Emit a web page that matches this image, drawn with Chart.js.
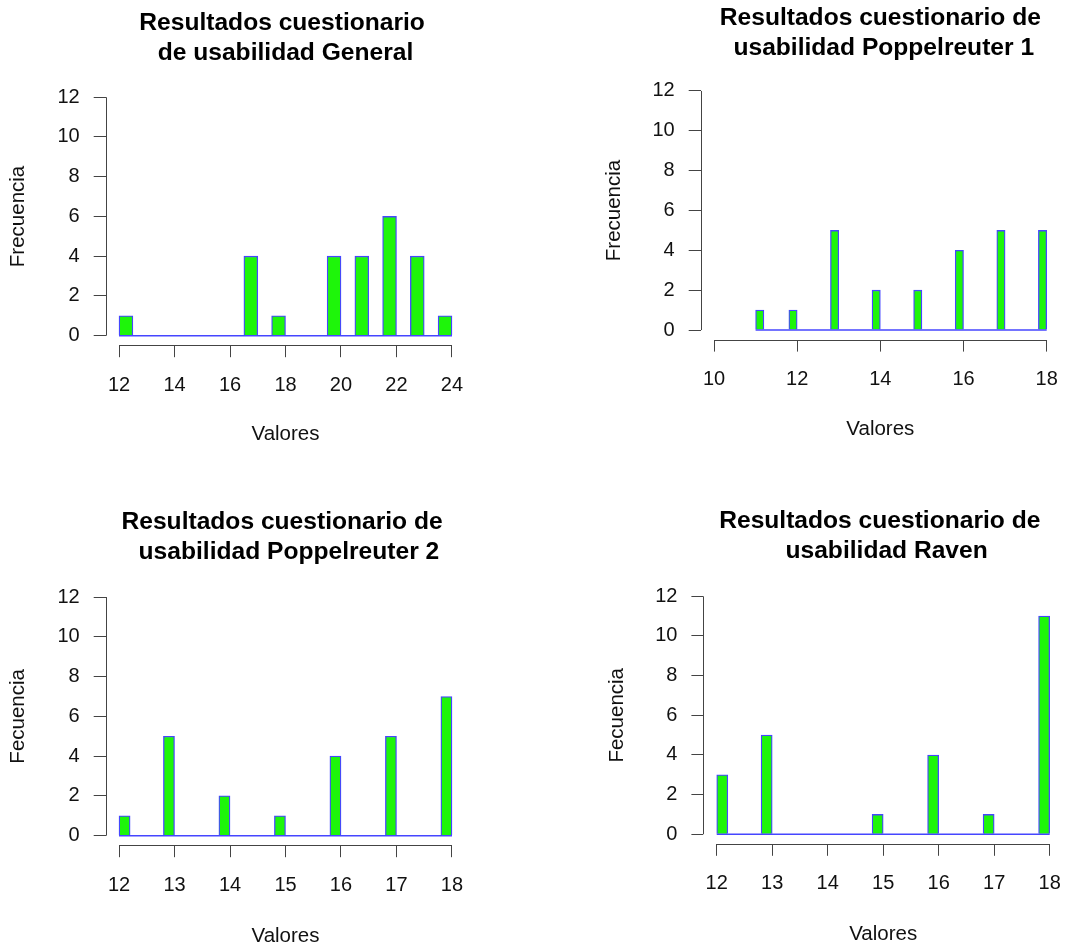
<!DOCTYPE html>
<html>
<head>
<meta charset="utf-8">
<script src="https://cdn.jsdelivr.net/npm/chart.js@4.4.1/dist/chart.umd.min.js"></script>
<style>
  html, body { margin: 0; padding: 0; background: #fff; }
  #wrap { position: relative; width: 1084px; height: 949px; }
  #wrap canvas { position: absolute; }
</style>
</head>
<body>
<div id="wrap">
  <canvas id="c1" width="542" height="470" style="left:0;top:0"></canvas>
  <canvas id="c2" width="542" height="470" style="left:542px;top:0"></canvas>
  <canvas id="c3" width="542" height="479" style="left:0;top:470px"></canvas>
  <canvas id="c4" width="542" height="479" style="left:542px;top:470px"></canvas>
</div>
<script>
// frecuencias por intervalo (histogramas de R)
var generalCounts = [1,0,0,0,0,0,0,0,0,4,0,1,0,0,0,4,0,4,0,6,0,4,0,1];          // 12..24, ancho 0.5
var poppel1Counts = [1,0,0,0,1,0,0,0,0,5,0,0,0,0,2,0,0,0,0,2,0,0,0,0,4,0,0,0,0,5,0,0,0,0,5]; // 11..18, ancho 0.2
var poppel2Counts = [1,0,0,0,5,0,0,0,0,2,0,0,0,0,1,0,0,0,0,4,0,0,0,0,5,0,0,0,0,7];   // 12..18, ancho 0.2
var ravenCounts   = [3,0,0,0,5,0,0,0,0,0,0,0,0,0,1,0,0,0,0,4,0,0,0,0,1,0,0,0,0,11];  // 12..18, ancho 0.2

var binStarts = [12, 11, 12, 12];
var binWidths = [0.5, 0.2, 0.2, 0.2];

var xTicks1 = [12, 14, 16, 18, 20, 22, 24];
var xTicks2 = [10, 12, 14, 16, 18];
var xTicks3 = [12, 13, 14, 15, 16, 17, 18];
var xTicks4 = [12, 13, 14, 15, 16, 17, 18];
var yTicks = [0, 2, 4, 6, 8, 10, 12];

var titles = [
  ['Resultados cuestionario ', 'de usabilidad General'],
  ['Resultados cuestionario de', ' usabilidad Poppelreuter 1'],
  ['Resultados cuestionario de ', ' usabilidad Poppelreuter 2'],
  ['Resultados cuestionario de ', ' usabilidad Raven']
];
var yTitles = ['Frecuencia', 'Frecuencia', 'Fecuencia', 'Fecuencia'];
var xTitle = 'Valores';

var FONT = "'Liberation Sans', Arial, Helvetica, sans-serif";

// axis lines only from first to last tick, like R
var axisLines = {
  id: 'axisLines',
  afterDraw: function (chart) {
    var ctx = chart.ctx, xs = chart.scales.x, ys = chart.scales.y;
    var xt = xs.ticks, yt = ys.ticks;
    ctx.save();
    ctx.strokeStyle = '#444';
    ctx.lineWidth = 1;
    ctx.beginPath();
    var yb = Math.round(xs.top) + 0.5;
    ctx.moveTo(xs.getPixelForValue(xt[0].value), yb);
    ctx.lineTo(xs.getPixelForValue(xt[xt.length - 1].value), yb);
    var xl = Math.round(ys.right) + 0.5;
    ctx.moveTo(xl, ys.getPixelForValue(yt[0].value));
    ctx.lineTo(xl, ys.getPixelForValue(yt[yt.length - 1].value));
    ctx.stroke();
    ctx.restore();
  }
};

function makeHist(id, counts, start, width, xTicks, xMin, xMax, title, yTitle, lay) {
  var bars = counts.map(function (c, i) { return { x: start + width * (i + 0.5), y: c }; });
  var end = start + width * counts.length;
  var ctx = document.getElementById(id).getContext('2d');
  var canvasH = ctx.canvas.height;
  return new Chart(ctx, {
    type: 'bar',
    data: {
      datasets: [{
        type: 'line',
        data: [{ x: start, y: 0 }, { x: end, y: 0 }],
        borderColor: '#4646ff',
        borderWidth: 1.5,
        pointRadius: 0,
        order: 0
      }, {
        data: bars,
        backgroundColor: '#1ef50a',
        borderColor: '#4646ff',
        borderWidth: 1.3,
        barPercentage: 1,
        categoryPercentage: 1,
        order: 1
      }]
    },
    options: {
      responsive: false,
      animation: false,
      layout: { padding: { left: 0, top: 0, bottom: 0, right: lay.right } },
      plugins: {
        legend: { display: false },
        tooltip: { enabled: false },
        title: {
          display: true,
          text: title,
          fullSize: false,
          color: '#000',
          font: { family: FONT, size: 24.6, weight: 'bold', lineHeight: 30 / 24.6 },
          padding: { top: lay.titleTop, bottom: lay.titleBottom }
        }
      },
      scales: {
        x: {
          type: 'linear',
          min: xMin,
          max: xMax,
          offset: false,
          afterFit: function (s) { s.height = canvasH - lay.bottom; },
          afterBuildTicks: function (s) { s.ticks = xTicks.map(function (v) { return { value: v }; }); },
          grid: { offset: false, drawOnChartArea: false, drawTicks: true, tickLength: 12, color: '#444', lineWidth: 1 },
          border: { display: false },
          ticks: { color: '#111', padding: 16, maxRotation: 0, autoSkip: false, font: { family: FONT, size: 20 } },
          title: { display: true, text: xTitle, color: '#111', font: { family: FONT, size: 20.5 }, padding: { top: 0, bottom: lay.xTitlePad } }
        },
        y: {
          min: -0.48,
          max: 12.48,
          afterFit: function (s) { s.width = lay.left; },
          afterBuildTicks: function (s) { s.ticks = yTicks.map(function (v) { return { value: v }; }); },
          grid: { drawOnChartArea: false, drawTicks: true, tickLength: 12, color: '#444', lineWidth: 1 },
          border: { display: false },
          ticks: { color: '#111', padding: 14, font: { family: FONT, size: 20 } },
          title: { display: true, text: yTitle, color: '#111', font: { family: FONT, size: 20.5 }, padding: { top: lay.yTitlePad, bottom: 0 } }
        }
      }
    },
    plugins: [axisLines]
  });
}

makeHist('c1', generalCounts, binStarts[0], binWidths[0], xTicks1, 11.52, 24.48, titles[0], yTitles[0],
  { left: 105.7, right: 76.7, bottom: 345.2, titleTop: 8, titleBottom: 19.7, xTitlePad: 23, yTitlePad: 6.3 });
makeHist('c2', poppel1Counts, binStarts[1], binWidths[1], xTicks2, 9.68, 18.32, titles[1], yTitles[1],
  { left: 158.7, right: 24, bottom: 339.6, titleTop: 3.5, titleBottom: 17.9, xTitlePad: 28, yTitlePad: 59.7 });
makeHist('c3', poppel2Counts, binStarts[2], binWidths[2], xTicks3, 11.76, 18.24, titles[2], yTitles[2],
  { left: 105.7, right: 76.7, bottom: 375.2, titleTop: 37.7, titleBottom: 19.8, xTitlePad: 0.3, yTitlePad: 6.3 });
makeHist('c4', ravenCounts, binStarts[3], binWidths[3], xTicks4, 11.76, 18.24, titles[3], yTitles[3],
  { left: 161.4, right: 21, bottom: 373.8, titleTop: 36.5, titleBottom: 20.3, xTitlePad: 2, yTitlePad: 63 });
</script>
</body>
</html>
